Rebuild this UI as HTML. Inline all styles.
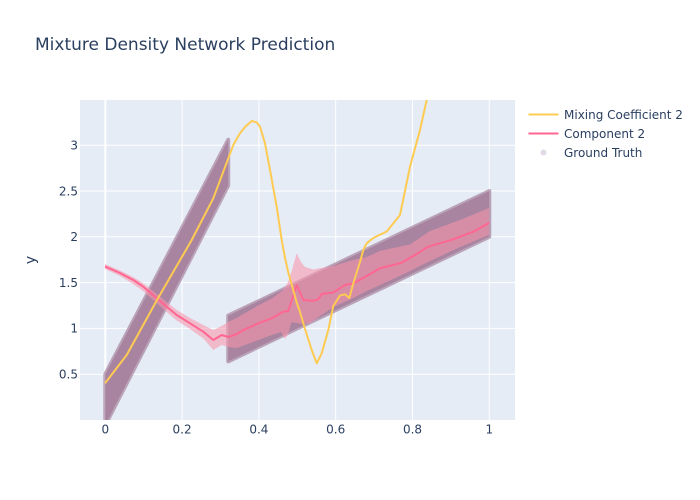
<!DOCTYPE html>
<html>
<head>
<meta charset="utf-8">
<style>
html,body{margin:0;padding:0;background:#fff;}
svg{display:block;}
text{font-family:"DejaVu Sans","Liberation Sans",sans-serif;fill:#2a3f5f;}
</style>
</head>
<body>
<svg width="700" height="500" viewBox="0 0 700 500" xmlns="http://www.w3.org/2000/svg">
  <defs>
    <clipPath id="plot"><rect x="80" y="100" width="435" height="320"/></clipPath>
  </defs>
  <rect x="0" y="0" width="700" height="500" fill="#ffffff"/>
  <rect x="80" y="100" width="435" height="320" fill="#E5ECF6"/>

  <!-- grid -->
  <g stroke="#ffffff" stroke-width="1">
    <line x1="182.1" y1="100" x2="182.1" y2="420"/>
    <line x1="258.9" y1="100" x2="258.9" y2="420"/>
    <line x1="335.7" y1="100" x2="335.7" y2="420"/>
    <line x1="412.5" y1="100" x2="412.5" y2="420"/>
    <line x1="489.3" y1="100" x2="489.3" y2="420"/>
    <line x1="80" y1="374.2" x2="515" y2="374.2"/>
    <line x1="80" y1="328.4" x2="515" y2="328.4"/>
    <line x1="80" y1="282.6" x2="515" y2="282.6"/>
    <line x1="80" y1="236.8" x2="515" y2="236.8"/>
    <line x1="80" y1="191" x2="515" y2="191"/>
    <line x1="80" y1="145.2" x2="515" y2="145.2"/>
  </g>
  <line x1="105.3" y1="100" x2="105.3" y2="420" stroke="#ffffff" stroke-width="2"/>

  <g clip-path="url(#plot)">
    <!-- ground truth bands -->
    <g fill="rgb(168,132,160)" stroke="rgb(168,132,160)" stroke-opacity="0.7" stroke-width="4" stroke-linejoin="round">
      <polygon points="105.3,420 105.3,374.2 228.2,139.7 228.2,185.5 105.3,425"/>
      <polygon points="228.2,361.4 489.3,236.8 489.3,191 228.2,315.6"/>
    </g>

    <!-- component band -->
    <polygon fill="rgb(248,150,173)" fill-opacity="0.58"
      points="105,264 120,270.5 133,277 143,283 155,292.5 166.7,302 176.7,310 190,318 203.3,325 213.3,330 221.7,326 228.3,321.7 236.7,318 245,313 258.3,305.5 271.7,298.5 283.3,290 288,282 291.7,271 296.7,253.3 301,262 305,267 313,269.5 320,268.3 333.3,266 343,263 353.3,260 366.7,257 380,251 393.3,248 410,244.5 430,231 460,220 489,208 489,235 460,247 430,261 410,271 393.3,279 380,285 366.7,291 353.3,298 333.3,307 320,316 310,323 301.7,324 296.7,323 291.7,322 288,334 285,339 281,332 271.7,335 258.3,340 245,345 236.7,348 228.3,347 221.7,345 213.3,350 203.3,338.5 190,329 176.7,320.5 166.7,312 155,301.5 143,291 133,284 120,276 105,269"/>

    <!-- component line -->
    <polyline fill="none" stroke="#FF6692" stroke-width="2" stroke-linejoin="round"
      points="105,266.5 120,273 133.3,280 143.3,286.7 155,296.7 166.7,306.7 176.7,315 190,323.3 203.3,331.7 213.3,340 221.7,335 228.3,337 236.7,334 245,329.3 258.3,323.3 271.7,318.3 283.3,311.7 288.3,311 296.7,285 303.3,300 313.3,300.7 318,299.5 321.7,294 333.3,292.5 345,285 353.3,283.3 366.7,276 380,268.3 393.3,265 401.7,262.7 413.3,256 428.3,246.7 453.3,239.3 473.3,231.7 489.3,222.7"/>

    <!-- mixing coefficient line -->
    <polyline fill="none" stroke="#FECB52" stroke-width="2" stroke-linejoin="round"
      points="105,383.3 126.7,355 156.7,300.5 191.7,240 213.3,198.3 233.3,145 240,133.3 245,127 251.7,121 256.7,122.3 260,126.7 265,143.3 270,170 276.7,206.7 281.7,240 285,258 288.3,272.5 291.7,284.5 296.7,302.5 300,312 305,329 311.7,350 316.7,363.3 321.7,353.3 328.3,330 333.3,306 340,295.5 345,294.3 349.3,298 353.3,283.3 360,262 363.3,250 366.7,243.3 373.3,238 386.7,231.5 400,215 410,166.7 420,130 426.7,100 430,88"/>
  </g>

  <!-- y tick labels -->
  <g font-size="12" text-anchor="end">
    <text x="78" y="378.5">0.5</text>
    <text x="78" y="332.7">1</text>
    <text x="78" y="286.9">1.5</text>
    <text x="78" y="241.1">2</text>
    <text x="78" y="195.3">2.5</text>
    <text x="78" y="149.5">3</text>
  </g>
  <!-- x tick labels -->
  <g font-size="12" text-anchor="middle">
    <text x="105.3" y="433.5">0</text>
    <text x="182.1" y="433.5">0.2</text>
    <text x="258.9" y="433.5">0.4</text>
    <text x="335.7" y="433.5">0.6</text>
    <text x="412.5" y="433.5">0.8</text>
    <text x="489.3" y="433.5">1</text>
  </g>

  <!-- axis title -->
  <text x="0" y="0" font-size="14" text-anchor="middle" transform="translate(35,260) rotate(-90)">y</text>

  <!-- title -->
  <text x="35" y="50" font-size="17">Mixture Density Network Prediction</text>

  <!-- legend -->
  <line x1="528.5" y1="114.5" x2="558.5" y2="114.5" stroke="#FECB52" stroke-width="2"/>
  <text x="564" y="118.8" font-size="12">Mixing Coefficient 2</text>
  <line x1="528.5" y1="133.5" x2="558.5" y2="133.5" stroke="#FF6692" stroke-width="2"/>
  <text x="564" y="137.8" font-size="12">Component 2</text>
  <circle cx="543.5" cy="152.5" r="3" fill="rgb(226,218,228)"/>
  <text x="564" y="156.8" font-size="12">Ground Truth</text>
</svg>
</body>
</html>
